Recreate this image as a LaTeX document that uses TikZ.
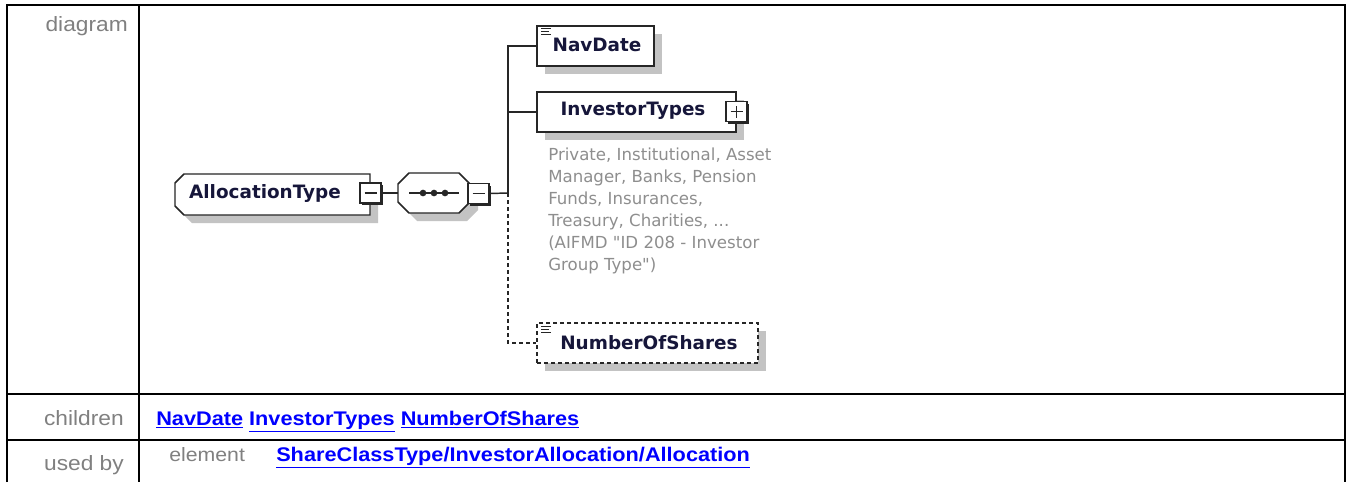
\documentclass[tikz,border=0pt]{standalone}
\usepackage{fontspec}
\setmainfont{Liberation Sans}
\newfontfamily\labfont[FakeStretch=1.1]{Liberation Sans}
\newfontfamily\dfont{DejaVu Sans}
\usetikzlibrary{shadows}
\definecolor{labgray}{HTML}{808080}
\definecolor{anngray}{HTML}{8E8E8E}
\definecolor{boxtext}{HTML}{16163A}
\definecolor{shadowgray}{HTML}{C3C3C3}
\definecolor{linkblue}{HTML}{0000FF}
\definecolor{edge}{HTML}{262626}
\newcommand{\lnk}[1]{\underline{#1}}
\begin{document}
\begin{tikzpicture}[x=0.75pt,y=-0.75pt,
  tableline/.style={line width=1.5pt,black},
  lab/.style={font=\labfont\fontsize{15.5}{18}\selectfont, text=labgray, inner sep=0},
  sublab/.style={font=\labfont\fontsize{14.5}{17}\selectfont, text=labgray, inner sep=0},
  link/.style={font=\labfont\bfseries\fontsize{14.8}{17}\selectfont, text=linkblue, inner sep=0},
  elbox/.style={draw=edge, line width=1.1pt, fill=white, inner sep=0,
    general shadow={fill=shadowgray, shadow xshift=6pt, shadow yshift=-6pt}},
  shapeline/.style={draw=edge, line width=1.1pt, fill=white},
  shapeshadow/.style={fill=shadowgray, shift={(8,8)}},
  anchorbox/.style={draw=none, inner sep=0},
  togglebox/.style={draw=edge, line width=1pt, fill=white, inner sep=0,
    minimum width=15.75pt, minimum height=15pt,
    general shadow={fill=edge, shadow xshift=1.5pt, shadow yshift=-1.5pt}},
  togglesign/.style={draw=edge, line width=1.1pt},
  boxtxt/.style={font=\dfont\bfseries\fontsize{13.8}{16}\selectfont, text=boxtext, inner sep=0},
  conn/.style={draw=edge, line width=1.1pt},
  optconn/.style={conn, dash pattern=on 3pt off 2.25pt},
  annot/.style={font=\dfont\fontsize{12.45}{16.5}\selectfont, text=anngray, inner sep=0, align=left},
  docicon/.style={draw=edge, line width=0.7pt}
]
\useasboundingbox (0,0) rectangle (1346,482);
\fill[white] (0,0) rectangle (1346,482);

% ---------- table ----------
\draw[tableline] (7,482) -- (7,5) -- (1345,5) -- (1345,482);
\draw[tableline] (139,5) -- (139,482);
\draw[tableline] (7,394) -- (1345,394);
\draw[tableline] (7,440) -- (1345,440);

\node[lab, anchor=base east] (ldiag) at (128,31) {diagram};
\node[lab, anchor=base east] (lchild) at (124,425) {children};
\node[lab, anchor=base east] (lused) at (124,470) {used by};
\node[sublab, anchor=base west] (lelem) at (169,461) {element};
\node[link, anchor=base west] (kids) at (156,425) {\lnk{NavDate} \lnk{InvestorTypes} \lnk{NumberOfShares}};
\node[link, anchor=base west] (usedlink) at (276,461) {\lnk{ShareClassType/InvestorAllocation/Allocation}};

% ---------- diagram ----------
% AllocationType (left corners cut)
\path[shapeshadow] (175,183) -- (184,174) -- (370,174) -- (370,215) -- (184,215) -- (175,206) -- cycle;
\path[shapeline] (175,183) -- (184,174) -- (370,174) -- (370,215) -- (184,215) -- (175,206) -- cycle;
\node[anchorbox, minimum width=146.25pt, minimum height=30.75pt] (alloc) at (272.5,194.5) {};
\node[boxtxt] (alloctxt) at (265,193) {AllocationType};
\node[togglebox] (minA) at (370.5,193) {};
\draw[togglesign] ([xshift=-4.5pt]minA.center) -- ([xshift=4.5pt]minA.center);

% sequence compositor (octagon)
\path[shapeshadow] (398,184) -- (409,173) -- (459,173) -- (470,184) -- (470,202) -- (459,213) -- (409,213) -- (398,202) -- cycle;
\path[shapeline] (398,184) -- (409,173) -- (459,173) -- (470,184) -- (470,202) -- (459,213) -- (409,213) -- (398,202) -- cycle;
\node[anchorbox, minimum width=54pt, minimum height=30pt] (seq) at (434,193) {};
\draw[edge, line width=1.1pt] (409,193) -- (459,193);
\foreach \xx in {423,434,445} \fill[edge] (\xx,193) circle (2.5pt);
\node[togglebox] (minS) at (478.5,193.5) {};
\draw[togglesign] ([xshift=-4.5pt]minS.center) -- ([xshift=4.5pt]minS.center);

% children
\node[elbox, minimum width=87.75pt, minimum height=30pt] (nav) at (595.5,46) {};
\node[boxtxt] (navtxt) at (597,45) {NavDate};
\draw[docicon] (541,28.5) -- (551,28.5);
\draw[docicon] (541,31.5) -- (549,31.5);
\draw[docicon] (541,34.5) -- (551,34.5);

\node[elbox, minimum width=149.25pt, minimum height=30pt] (inv) at (636.5,112) {};
\node[boxtxt] (invtxt) at (633,111) {InvestorTypes};
\node[togglebox] (plusI) at (736.5,111.5) {};
\draw[togglesign] ([xshift=-4.5pt]plusI.center) -- ([xshift=4.5pt]plusI.center);
\draw[togglesign] ([yshift=-4.5pt]plusI.center) -- ([yshift=4.5pt]plusI.center);

\node[annot, anchor=north west] (invdoc) at (548,148) {Private, Institutional, Asset\\Manager, Banks, Pension\\Funds, Insurances,\\Treasury, Charities, ...\\(AIFMD "ID 208 - Investor\\Group Type")};

\node[elbox, dash pattern=on 3pt off 2.25pt, minimum width=165.75pt, minimum height=30pt] (num) at (647.5,343) {};
\node[boxtxt] (numtxt) at (649,343) {NumberOfShares};
\draw[docicon] (541,326.5) -- (551,326.5);
\draw[docicon] (541,329.5) -- (549,329.5);
\draw[docicon] (541,332.5) -- (551,332.5);

% connectors
\coordinate (jn) at (508,193);
\draw[conn] (minA.east) -- (seq.west);
\draw[conn] (minS.east) -- (jn);
\draw[conn] (jn) |- (nav.west);
\draw[conn] (jn) |- (inv.west);
\draw[optconn] (jn) |- (num.west);
\end{tikzpicture}
\end{document}
